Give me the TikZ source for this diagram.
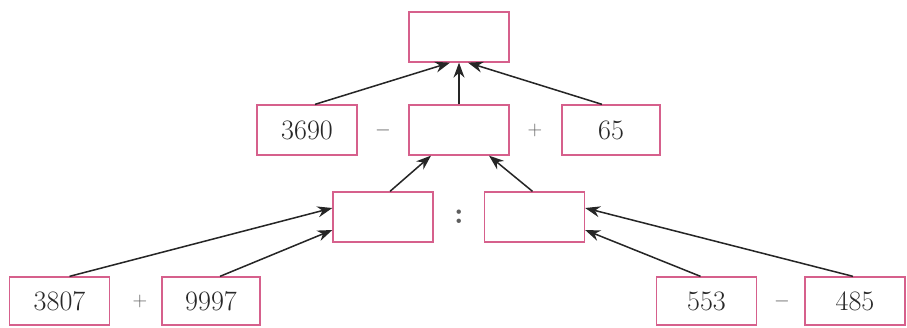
\documentclass[tikz,border=0pt]{standalone}
\usetikzlibrary{arrows.meta,calc}
\definecolor{boxpink}{RGB}{214,96,140}
\definecolor{txt}{RGB}{40,40,40}
\begin{document}
\begin{tikzpicture}[x=0.03cm,y=-0.03cm,
  numbox/.style={draw=boxpink,line width=1.1pt,fill=white,minimum width=3cm,minimum height=1.5cm,inner sep=0pt,text=txt,font=\fontsize{24}{28}\selectfont},
  op/.style={text=txt!75,font=\fontsize{16}{20}\selectfont,inner sep=0pt},
  arr/.style={line width=1.3pt,draw=black!85,-{Stealth[length=4.5mm,width=3.3mm]}}]
\useasboundingbox (0,0) rectangle (907,327);
% boxes
\node[numbox] (top) at (459,37) {};
\node[numbox] (a3690) at (307,130) {3690};
\node[numbox] (mid) at (459,130) {};
\node[numbox,minimum width=2.94cm] (a65) at (611,130) {65};
\node[op] (m1) at (383,130) {$-$};
\node[op] (p1) at (535,130) {$+$};
\node[numbox] (left) at (383,217) {};
\node[numbox] (right) at (534.5,217) {};
\node[op,font=\fontsize{26}{30}\selectfont\bfseries] (col) at (459,217) {:};
\node[numbox,minimum height=1.44cm] (a3807) at (59.5,301) {3807};
\node[numbox,minimum width=2.94cm,minimum height=1.44cm] (a9997) at (211,301) {9997};
\node[op] (p2) at (140,301) {$+$};
\node[numbox,minimum height=1.44cm] (a553) at (706.5,301) {553};
\node[numbox,minimum height=1.44cm] (a485) at (855,301) {485};
\node[op] (m2) at (782,301) {$-$};
% connectors
\draw[arr] ($(a3690.north)+(8,0)$) -- ($(top.south)+(-9,0)$);
\draw[arr] (mid.north) -- (top.south);
\draw[arr] ($(a65.north)+(-9,0)$) -- ($(top.south)+(9,0)$);
\draw[arr] ($(left.north)+(7,0)$) -- ($(mid.south)+(-28,0)$);
\draw[arr] ($(right.north)+(-2,0)$) -- ($(mid.south)+(30,0)$);
\draw[arr] ($(a3807.north)+(10,0)$) -- ($(left.west)+(0,-9)$);
\draw[arr] ($(a9997.north)+(9,0)$) -- ($(left.west)+(0,13)$);
\draw[arr] ($(a485.north)+(-2,0)$) -- ($(right.east)+(0,-9)$);
\draw[arr] ($(a553.north)+(-6,0)$) -- ($(right.east)+(0,13)$);
\end{tikzpicture}
\end{document}
